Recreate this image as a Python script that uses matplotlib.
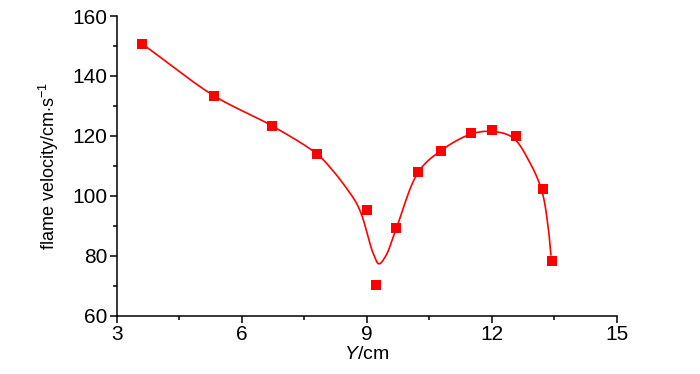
import numpy as np
import matplotlib
matplotlib.use("Agg")
import matplotlib.pyplot as plt
from matplotlib.ticker import MultipleLocator
from matplotlib import font_manager

names = {f.name for f in font_manager.fontManager.ttflist}
base = 'Liberation Sans Narrow' if 'Liberation Sans Narrow' in names else 'Liberation Sans'
plt.rcParams['font.family'] = [base, 'DejaVu Sans']
plt.rcParams['mathtext.fontset'] = 'custom'
plt.rcParams['mathtext.rm'] = base
plt.rcParams['mathtext.it'] = base + ':italic'

# measured points
y_pos = [3.6, 5.33, 6.72, 7.8, 9.0, 9.23, 9.71, 10.24, 10.77, 11.51, 12.0, 12.59, 13.22, 13.44]
velocity = [150.8, 133.4, 123.4, 114.0, 95.4, 70.1, 89.1, 108.0, 115.0, 120.9, 122.0, 120.0, 102.2, 78.4]

# fitted curve, points
curve_x = [3.6, 5.33, 6.72, 7.8, 8.15, 8.51, 8.75, 8.89, 9.03, 9.15, 9.29, 9.45, 9.71, 10.24, 10.77,
           11.5, 12.0, 12.5, 12.9, 13.2, 13.35, 13.42]
curve_y = [150.8, 133.4, 123.4, 114.0, 109.0, 102.6, 97.6, 93.1, 86.4, 80.9, 77.3, 79.8, 89.2, 108.0, 115.0,
           120.6, 121.5, 119.5, 111.5, 101.8, 90.0, 80.3]


def catmull_rom(xk, yk, kx, ky, n=40):
    # centripetal Catmull-Rom in (roughly) screen-space units
    P = np.column_stack([np.asarray(xk, float) * kx, np.asarray(yk, float) * ky])
    P = np.vstack([2 * P[0] - P[1], P, 2 * P[-1] - P[-2]])
    out = []
    for i in range(1, len(P) - 2):
        p0, p1, p2, p3 = P[i - 1], P[i], P[i + 1], P[i + 2]
        t0 = 0.0
        t1 = t0 + np.linalg.norm(p1 - p0) ** 0.5
        t2 = t1 + np.linalg.norm(p2 - p1) ** 0.5
        t3 = t2 + np.linalg.norm(p3 - p2) ** 0.5
        t = np.linspace(t1, t2, n)[:, None]
        a1 = (t1 - t) / (t1 - t0) * p0 + (t - t0) / (t1 - t0) * p1
        a2 = (t2 - t) / (t2 - t1) * p1 + (t - t1) / (t2 - t1) * p2
        a3 = (t3 - t) / (t3 - t2) * p2 + (t - t2) / (t3 - t2) * p3
        b1 = (t2 - t) / (t2 - t0) * a1 + (t - t0) / (t2 - t0) * a2
        b2 = (t3 - t) / (t3 - t1) * a2 + (t - t1) / (t3 - t1) * a3
        c = (t2 - t) / (t2 - t1) * b1 + (t - t1) / (t2 - t1) * b2
        out.append(c)
    out = np.vstack(out)
    return out[:, 0] / kx, out[:, 1] / ky


fig = plt.figure(figsize=(7, 3.74), dpi=100)
ax = fig.add_axes([0.167, 0.156, 0.714, 0.801])

ax.set_xlim(3, 15)
ax.set_ylim(60, 160)
kx = 0.714 * 700 / 12
ky = 0.801 * 374 / 100
sx, sy = catmull_rom(curve_x, curve_y, kx, ky)
ax.plot(sx, sy, color='red', lw=1.2)
ax.plot(y_pos, velocity, 's', color='red', ms=6.5, mew=0)

ax.xaxis.set_major_locator(MultipleLocator(3))
ax.xaxis.set_minor_locator(MultipleLocator(1.5))
ax.yaxis.set_major_locator(MultipleLocator(20))
ax.yaxis.set_minor_locator(MultipleLocator(10))

for s in ['top', 'right']:
    ax.spines[s].set_visible(False)
for s in ['left', 'bottom']:
    ax.spines[s].set_linewidth(1.1)
ax.tick_params(which='major', direction='out', length=5, width=1.1, labelsize=15, pad=2)
ax.tick_params(which='minor', direction='out', length=3, width=1.1)

ax.set_xlabel(r'$\it{Y}$/cm', fontsize=14, labelpad=1)
ax.set_ylabel(r'flame velocity/cm$\cdot$s$^{-1}$', fontsize=13, labelpad=8)

fig.savefig('out.png', dpi=100)
